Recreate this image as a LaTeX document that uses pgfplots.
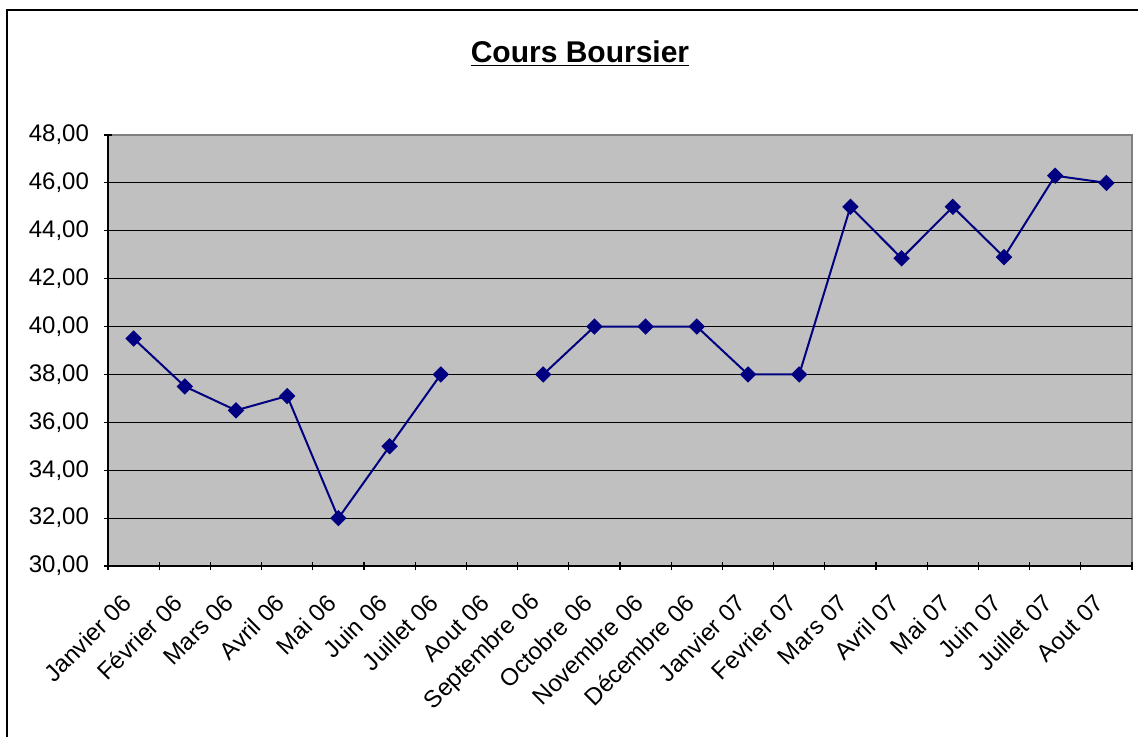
\documentclass[border=0pt]{standalone}
\usepackage{pgfplots}
\pgfplotsset{compat=1.18}
\usepackage{fontspec}
\setmainfont{Liberation Sans}
\definecolor{plotbg}{RGB}{192,192,192}
\definecolor{navy}{RGB}{0,0,128}
\begin{document}
\begin{tikzpicture}
\useasboundingbox (0,0) rectangle (569pt,368pt);
\clip (0,0) rectangle (569pt,368pt);
\draw[black, line width=0.8pt] (3.5pt,-10pt) rectangle (600pt,363pt);
\node[anchor=base, font=\fontsize{15}{18}\selectfont\bfseries] at (290pt,337pt) {\underline{Cours Boursier}};
\begin{axis}[
  at={(54pt,85pt)}, anchor=south west,
  scale only axis, width=512pt, height=215.5pt,
  xmin=-0.5, xmax=19.5, ymin=30, ymax=48,
  ytick={30,32,...,46},
  extra y ticks={48},
  extra y tick style={grid=none},
  xtick={0,...,19},
  xticklabels={Janvier 06,Février 06,Mars 06,Avril 06,Mai 06,Juin 06,Juillet 06,Aout 06,Septembre 06,Octobre 06,Novembre 06,Décembre 06,Janvier 07,Fevrier 07,Mars 07,Avril 07,Mai 07,Juin 07,Juillet 07,Aout 07},
  minor xtick={-0.5,0.5,...,19.5},
  major x tick style={draw=none},
  minor x tick style={black, line width=0.6pt},
  y tick style={black, line width=0.6pt},
  tick align=outside,
  major tick length=4pt, minor tick length=4pt,
  axis lines=left,
  axis line style={-, black, line width=0.8pt},
  axis background/.style={fill=plotbg, draw=gray, line width=0.8pt},
  ymajorgrids, grid style={black, line width=0.5pt},
  /pgf/number format/assume math mode=true,
  /pgf/number format/.cd, fixed, fixed zerofill, precision=2, use comma, 1000 sep={},
  /pgfplots/.cd,
  yticklabel style={font=\fontsize{12}{14}\selectfont, xshift=-4pt},
  xticklabel style={font=\fontsize{12}{14}\selectfont, xshift=-1pt, rotate=45, anchor=east},
  xticklabel shift=12pt,
  unbounded coords=jump,
  clip=false,
]
\addplot[navy, line width=1pt, mark=square*, mark size=2.4pt, mark options={rotate=45, solid, fill=navy}] coordinates {
(0,39.5) (1,37.5) (2,36.5) (3,37.1) (4,32) (5,35) (6,38) (7,nan) (8,38) (9,40) (10,40) (11,40) (12,38) (13,38) (14,45) (15,42.85) (16,45) (17,42.9) (18,46.3) (19,46)
};
\end{axis}
\end{tikzpicture}
\end{document}
